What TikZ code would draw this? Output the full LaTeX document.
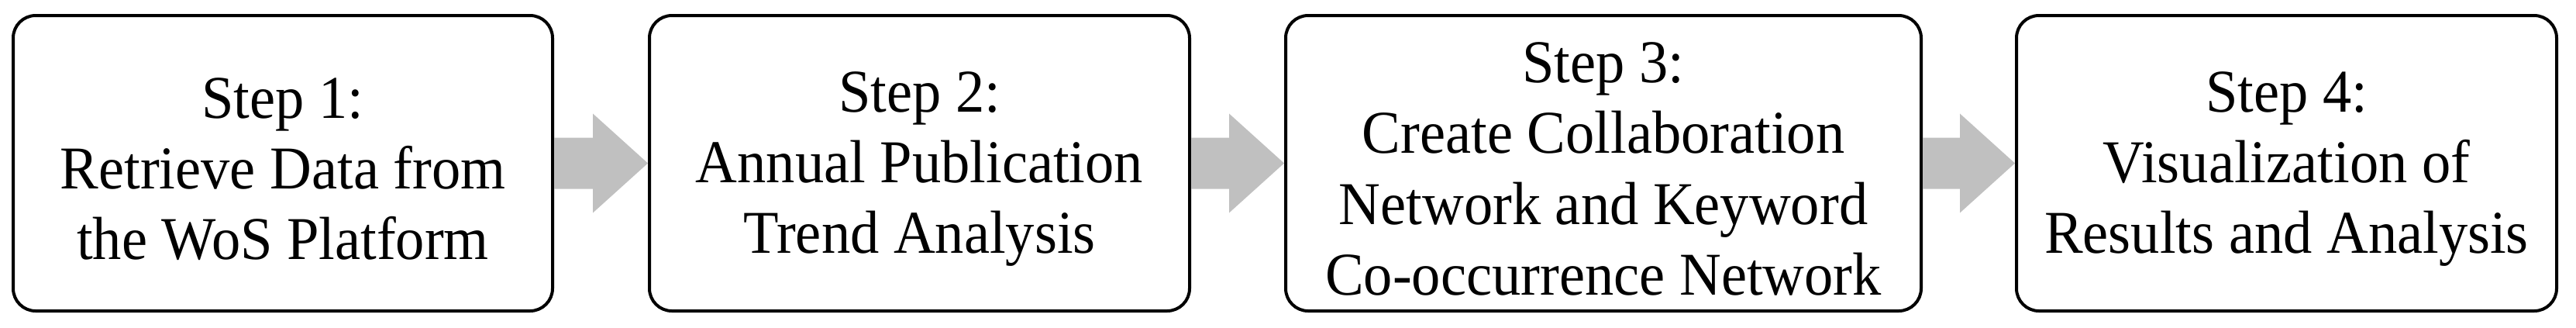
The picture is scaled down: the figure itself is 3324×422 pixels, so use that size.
\documentclass[tikz,border=0pt]{standalone}
\usepackage{fontspec}
\setmainfont{Liberation Serif}[FakeStretch=0.95]
\usetikzlibrary{calc}
\definecolor{arrowgray}{RGB}{192,192,192}
\newcommand{\firstlinestrut}{\rule{0pt}{0.85em}}
\newcommand{\stepflowarrow}[2]{%
  \fill[flowarrow] ($(#1.east)+(0,-33)$) -- ($(#2.west)+(-71,-33)$) -- ($(#2.west)+(-71,-64)$)
    -- (#2.west) -- ($(#2.west)+(-71,64)$) -- ($(#2.west)+(-71,33)$) -- ($(#1.east)+(0,33)$) -- cycle;}
\begin{document}
\begin{tikzpicture}[x=0.25pt,y=-0.25pt,
  stepbox/.style={draw=black, line width=1pt, rounded corners=7.25pt,
    minimum height=95.25pt, inner sep=0pt, align=center,
    font=\fontsize{19.6pt}{22.8pt}\selectfont},
  flowarrow/.style={fill=arrowgray, draw=none}]
\useasboundingbox (0,0) rectangle (3324,422);
\node[stepbox, minimum width=174pt] (b1) at (365,210.5)
  {\firstlinestrut Step 1:\\Retrieve Data from\\the WoS Platform};
\node[stepbox, minimum width=174.25pt] (b2) at (1186.5,210.5)
  {\firstlinestrut Step 2:\\Annual Publication\\Trend Analysis};
\node[stepbox, minimum width=205pt] (b3) at (2069,210.5)
  {\firstlinestrut Step 3:\\Create Collaboration\\Network and Keyword\\Co-occurrence Network};
\node[stepbox, minimum width=174.25pt] (b4) at (2950.5,210.5)
  {\firstlinestrut Step 4:\\Visualization of\\Results and Analysis};
\stepflowarrow{b1}{b2}
\stepflowarrow{b2}{b3}
\stepflowarrow{b3}{b4}
\end{tikzpicture}
\end{document}
